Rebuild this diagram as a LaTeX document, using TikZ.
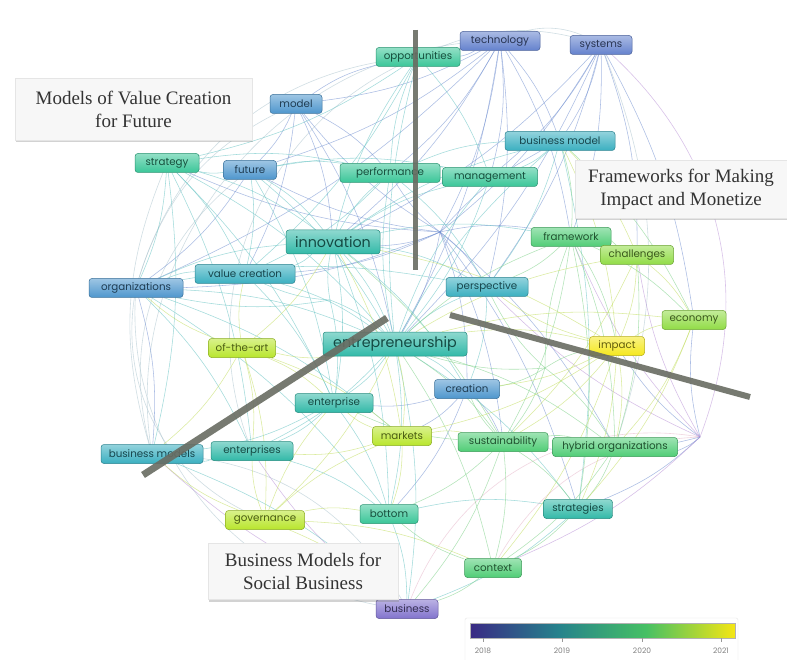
\documentclass[tikz,border=0pt]{standalone}
\usepackage{fontspec}
\setmainfont{Liberation Serif}
\newfontfamily\kwfont{Poppins}
\usetikzlibrary{shadows}
\pgfdeclarelayer{bg}
\pgfsetlayers{bg,main}
\definecolor{cPurple}{RGB}{130,115,205}
\definecolor{cBlueD}{RGB}{100,130,205}
\definecolor{cBlue}{RGB}{78,150,205}
\definecolor{cTealB}{RGB}{58,175,192}
\definecolor{cTeal}{RGB}{50,185,168}
\definecolor{cTealG}{RGB}{58,198,152}
\definecolor{cGreen}{RGB}{80,205,118}
\definecolor{cLime}{RGB}{145,220,70}
\definecolor{cLimeY}{RGB}{185,230,45}
\definecolor{cYellow}{RGB}{245,232,30}
\definecolor{eBlue}{RGB}{115,145,210}
\definecolor{eTeal}{RGB}{100,195,195}
\definecolor{eGreen}{RGB}{125,210,135}
\definecolor{eYellow}{RGB}{195,222,95}
\definecolor{eViolet}{RGB}{185,145,215}
\definecolor{eArc}{RGB}{170,195,205}
\definecolor{ePink}{RGB}{230,180,200}
\definecolor{vA}{RGB}{58,42,132}
\definecolor{vB}{RGB}{38,130,140}
\definecolor{vC}{RGB}{70,192,100}
\definecolor{vD}{RGB}{245,230,20}
\definecolor{barline}{RGB}{105,108,98}
\tikzset{
  kw/.style={rounded corners=3pt, draw=#1!75!black, line width=0.5pt,
    top color=#1!55!white, bottom color=#1, text=#1!40!black,
    font=\kwfont\fontsize{10.3}{12}\selectfont, minimum height=19pt, inner sep=1pt},
  kwbig/.style={kw=#1, font=\kwfont\fontsize{14.3}{16}\selectfont, minimum height=24pt},
  edge/.style={line width=0.55pt, opacity=0.6},
  arcedge/.style={line width=0.6pt, opacity=0.55},
  callout/.style={fill=white!97!black, draw=black!10, align=center,
    font=\fontsize{19}{23}\selectfont, text=black!80,
    drop shadow={shadow xshift=0.5pt, shadow yshift=-2.5pt, opacity=0.35}},
  cluster/.style={draw=barline, line width=6pt, opacity=0.9},
  yearlbl/.style={font=\kwfont\fontsize{7.5}{9}\selectfont, text=black!50}
}
\begin{document}
\begin{tikzpicture}[x=1pt,y=-1pt]
\useasboundingbox (0,0) rectangle (787,660);

% keyword nodes
\node[kw=cTealG, minimum width=84pt] (opp) at (418,57) {opportunities};
\node[kw=cBlueD, minimum width=80pt] (tech) at (500,41) {technology};
\node[kw=cBlueD, minimum width=62pt] (sys) at (601,45) {systems};
\node[kw=cBlue, minimum width=52pt] (model) at (296,104) {model};
\node[kw=cTealB, minimum width=110pt] (bm) at (560,141) {business model};
\node[kw=cTealG, minimum width=64pt] (strat) at (167,163) {strategy};
\node[kw=cBlue, minimum width=53pt] (fut) at (250,170) {future};
\node[kw=cTealG, minimum width=100pt] (perf) at (390,173) {performance};
\node[kw=cTealG, minimum width=95pt] (mgmt) at (490,177) {management};
\node[kw=cGreen, minimum width=80pt] (frame) at (571,237) {framework};
\node[kw=cLime, minimum width=73pt] (chal) at (637,255) {challenges};
\node[kwbig=cTeal, minimum width=94pt] (inno) at (333,242) {innovation};
\node[kw=cTealB, minimum width=100pt] (vc) at (245,274) {value creation};
\node[kw=cBlue, minimum width=94pt] (org) at (136,288) {organizations};
\node[kw=cTealB, minimum width=82pt] (persp) at (487,287) {perspective};
\node[kw=cLime, minimum width=64pt] (econ) at (694,320) {economy};
\node[kw=cLimeY, minimum width=67pt] (sota) at (242,348) {of-the-art};
\node[kwbig=cTeal, minimum width=144pt] (entr) at (395,344) {entrepreneurship};
\node[kw=cYellow, minimum width=55pt] (imp) at (617,346) {impact};
\node[kw=cBlue, minimum width=65pt] (crea) at (467,389) {creation};
\node[kw=cTeal, minimum width=78pt] (ent) at (334,403) {enterprise};
\node[kw=cLimeY, minimum width=59pt] (mkt) at (402,436) {markets};
\node[kw=cGreen, minimum width=90pt] (sust) at (503,442) {sustainability};
\node[kw=cGreen, minimum width=125pt] (hyb) at (615,447) {hybrid organizations};
\node[kw=cTealB, minimum width=102pt] (bms) at (152,454) {business models};
\node[kw=cTeal, minimum width=82pt] (ents) at (252,451) {enterprises};
\node[kw=cLimeY, minimum width=79pt] (gov) at (265,520) {governance};
\node[kw=cTealG, minimum width=58pt] (bot) at (389,514) {bottom};
\node[kw=cTeal, minimum width=69pt] (strs) at (578,509) {strategies};
\node[kw=cGreen, minimum width=57pt] (ctx) at (493,568) {context};
\node[kw=cPurple, minimum width=62pt] (bus) at (407,609) {business};

\coordinate (hubA) at (440,232);
\coordinate (hubB) at (700,437);
\coordinate (hubC) at (330,300);
\coordinate (hubD) at (545,368);

\begin{pgfonlayer}{bg}
\fill[white] (0,0) rectangle (787,660);
% big arcs
\draw[arcedge, eArc] (opp.center) to[bend left=22] (sys.center);
\draw[arcedge, eArc] (tech.center) to[bend left=30] (sys.center);
\draw[arcedge, eViolet] (sys.center) to[bend left=35] (hubB);
\draw[arcedge, eArc] (sys.center) to[bend left=20] (hyb.center);
\draw[arcedge, eArc] (opp.center) to[bend right=35] (org.center);
\draw[arcedge, eArc] (tech.center) to[bend right=50] (bms.center);
\draw[arcedge, eArc] (org.center) to[bend right=45] (bus.center);
\draw[arcedge, eArc] (org.center) to[bend right=40] (gov.center);
\draw[arcedge, eArc] (model.center) to[bend right=25] (org.center);
\draw[arcedge, eArc] (strat.center) to[bend right=20] (bms.center);
\draw[arcedge, eArc] (opp.center) to[bend right=45] (ents.center);
\draw[arcedge, ePink] (bus.center) to[bend left=40] (hubB);
\draw[arcedge, ePink] (ctx.center) to[bend left=30] (hubB);
\draw[arcedge, eArc] (bms.center) to[bend left=30] (bus.center);
\draw[arcedge, eArc] (fut.center) to[bend right=35] (bms.center);
% blue
\foreach \a/\b in {tech/opp, tech/mgmt, tech/bm, tech/persp, tech/inno, tech/perf, tech/hubA, tech/entr, tech/frame, tech/model, tech/fut, sys/bm, sys/mgmt, sys/persp, sys/hubA, sys/frame, sys/inno, sys/entr, sys/chal, hubA/model, hubA/fut, hubA/vc, hubA/org, hubA/inno, hubA/perf, hubA/persp, hubA/entr, hubA/crea, hubA/sust, hubA/hyb, hubA/frame, hubA/strs, hubA/bm, hubA/strat, model/inno, model/perf, model/entr, model/fut, model/vc, model/opp, fut/org, crea/ent, crea/mkt, crea/bot, crea/sust, org/bms, hubB/hyb, hubB/strs, hubB/imp, hubB/econ, hubB/sust, tech/org, sys/econ}
  {\draw[edge, color=eBlue] (\a) to[bend left=10] (\b);}
% violet
\foreach \a/\b in {hubB/ctx, bus/ents, bus/bms, hubB/chal, hubB/frame, hubB/persp}
  {\draw[edge, color=eViolet] (\a) to[bend left=10] (\b);}
% teal
\foreach \a/\b in {fut/strat, fut/inno, fut/vc, fut/entr, fut/perf, fut/mgmt, fut/ent, strat/inno, strat/org, strat/entr, strat/perf, strat/vc, strat/ent, strat/bms, org/vc, org/inno, org/entr, org/ents, org/persp, org/mkt, inno/entr, inno/perf, inno/opp, inno/mgmt, inno/vc, inno/persp, inno/crea, inno/ent, inno/frame, inno/bm, inno/bot, entr/persp, entr/crea, entr/ent, entr/ents, entr/bot, entr/bus, entr/strs, entr/perf, entr/opp, entr/bm, entr/mgmt, perf/mgmt, perf/bm, perf/opp, perf/persp, bm/mgmt, bm/persp, opp/mgmt, opp/vc, ent/ents, ent/bms, ent/bot, ents/bms, ents/bot, bms/bus, bot/bus, bot/strs, strs/bus, vc/entr, vc/ent, persp/crea, hubC/inno, hubC/vc, hubC/entr, hubC/ent, hubC/org, strat/ents, org/bot, opp/strat, perf/vc, mgmt/entr, bm/strs}
  {\draw[edge, color=eTeal] (\a) to[bend left=10] (\b);}
% green
\foreach \a/\b in {bm/frame, frame/chal, frame/persp, frame/imp, frame/econ, frame/sust, frame/hyb, entr/frame, entr/sust, entr/hyb, entr/ctx, sust/hyb, sust/strs, sust/ctx, sust/bot, sust/crea, sust/ent, sust/bus, hyb/strs, hyb/ctx, ctx/bus, ctx/bot, strs/ctx, inno/sust, hubD/imp, hubD/sust, hubD/frame, hubD/entr, hubD/hyb, bm/econ, hubD/crea, hubD/persp, frame/strs, chal/hyb}
  {\draw[edge, color=eGreen] (\a) to[bend left=10] (\b);}
% yellow
\foreach \a/\b in {chal/imp, chal/econ, chal/sust, imp/econ, imp/hyb, imp/sust, imp/crea, imp/strs, imp/ctx, imp/mkt, econ/hyb, econ/strs, entr/imp, entr/chal, entr/econ, entr/mkt, entr/gov, entr/sota, sota/vc, sota/mkt, sota/ent, sota/org, sota/ents, sota/bms, gov/bot, gov/ctx, gov/bus, gov/mkt, gov/ents, gov/ent, gov/bms, mkt/ent, mkt/bot, mkt/sust, mkt/ents, inno/imp, inno/mkt, inno/sota, bm/imp, bm/chal, sota/gov, imp/persp}
  {\draw[edge, color=eYellow] (\a) to[bend left=10] (\b);}
\end{pgfonlayer}

% cluster separator bars
\coordinate (v1) at (415,30);
\coordinate (v2) at (415,270);
\coordinate (d1) at (387,318);
\coordinate (d2) at (143,475);
\coordinate (r1) at (450,315);
\coordinate (r2) at (750,397);
\draw[cluster, line width=5pt] (v1) -- (v2);
\draw[cluster, line width=7pt] (d1) -- (d2);
\draw[cluster, line width=6pt] (r1) -- (r2);

% callouts
\node[callout, minimum width=237pt, minimum height=62pt] (t1) at (133.5,109) {Models of Value Creation\\for Future};
\node[callout, minimum width=212pt, minimum height=58pt] (t2) at (681,189) {Frameworks for Making\\Impact and Monetize};
\node[callout, minimum width=190pt, minimum height=56pt] (t3) at (303,571) {Business Models for\\Social Business};

% colour bar
\node[draw=black!10, fill=white, rounded corners=2pt, minimum width=273pt, minimum height=50pt] (cbframe) at (601.5,643) {};
\shade[left color=vA, right color=vB] (470,623) rectangle (558,638);
\shade[left color=vB, right color=vC] (558,623) rectangle (646,638);
\shade[left color=vC, right color=vD] (646,623) rectangle (735,638);
\draw[black!30, line width=0.4pt] (470,623) rectangle (735,638);
\foreach \x/\y in {483/2018, 562/2019, 642/2020, 721/2021} {
  \draw[black!40, line width=0.4pt] (\x,638) -- (\x,642);
  \node[yearlbl] at (\x,651) {\y};
}
\end{tikzpicture}
\end{document}
